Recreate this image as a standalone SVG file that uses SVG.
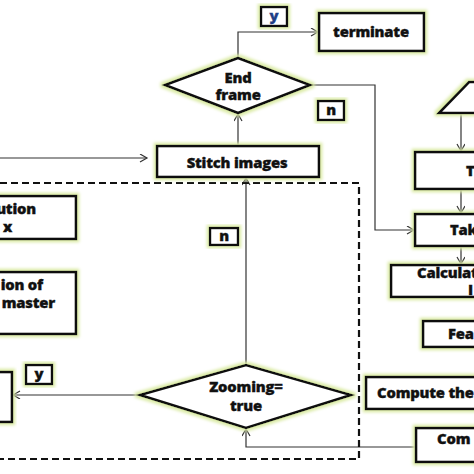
<svg xmlns="http://www.w3.org/2000/svg" width="474" height="474" viewBox="0 0 474 474">
<defs>
<style>
.box{fill:#fff;stroke:#111;stroke-width:2.6;filter:url(#glow)}
.lbl{fill:#fff;stroke:#111;stroke-width:2.4;filter:url(#glow)}
.t{font-family:"Open Sans","Liberation Sans",sans-serif;font-weight:800;font-size:14.8px;fill:#111;stroke:#111;stroke-width:0.35;letter-spacing:-0.2px}
.c{text-anchor:middle}
.e{text-anchor:end}
.con{fill:none;stroke:#333;stroke-width:1.2;marker-end:url(#arr)}
.dash{fill:none;stroke:#111;stroke-width:2.2;stroke-dasharray:7 4}
</style>
<filter id="glow" x="-20%" y="-20%" width="140%" height="140%">
<feMorphology in="SourceAlpha" operator="dilate" radius="2" result="d"/>
<feGaussianBlur in="d" stdDeviation="1.6" result="b"/>
<feFlood flood-color="#dbeba6"/>
<feComposite in2="b" operator="in" result="g"/>
<feMerge><feMergeNode in="g"/><feMergeNode in="SourceGraphic"/></feMerge>
</filter>
<marker id="arr" markerWidth="10" markerHeight="10" refX="8" refY="4" orient="auto" markerUnits="userSpaceOnUse">
<path d="M1,0 L8,4 L1,8" fill="none" stroke="#333" stroke-width="1.2"/>
</marker>
</defs>
<rect width="474" height="474" fill="#fff"/>

<g id="connectors">
<path class="con" d="M238,58 V32 H318"/>
<path class="con" d="M310,85 H375 V230 H414"/>
<path class="con" d="M238,146 V114"/>
<path class="con" d="M246,365 V178"/>
<path class="con" d="M140,395 H13"/>
<path class="con" d="M416,447 H246 V429"/>
<path class="con" d="M461,113 V151"/>
<path class="con" d="M461,189 V213"/>
<path class="con" d="M461,246 V264"/>
<path class="con" d="M0,158 H147"/>
</g>

<g id="dashed-region">
<path class="dash" d="M0,183 H359 V459 H0"/>
</g>

<g id="end-frame">
<polygon class="box" points="165,85 238,58 310,85 238,113"/>
<text class="t c" x="238" y="83">End</text>
<text class="t c" x="238" y="100">frame</text>
</g>

<g id="terminate">
<rect class="box" x="319" y="13" width="105" height="38"/>
<text class="t c" x="371" y="37">terminate</text>
</g>

<g id="label-y-top">
<rect class="lbl" x="261" y="7" width="26" height="19"/>
<text class="t c" x="274" y="21" style="fill:#1f3f86;stroke:#1f3f86">y</text>
</g>

<g id="label-n-top">
<rect class="lbl" x="318" y="101" width="26" height="19"/>
<text class="t c" x="331" y="115">n</text>
</g>

<g id="stitch-images">
<rect class="box" x="157" y="146" width="162" height="31"/>
<text class="t c" x="237" y="168">Stitch images</text>
</g>

<g id="label-n-mid">
<rect class="lbl" x="210" y="228" width="28" height="17"/>
<text class="t c" x="224" y="241">n</text>
</g>

<g id="zooming">
<polygon class="box" points="140,395 246,365 351,395 246,428"/>
<text class="t c" x="246" y="392">Zooming=</text>
<text class="t c" x="246" y="411">true</text>
</g>

<g id="label-y-bottom">
<rect class="lbl" x="26" y="365" width="26" height="19"/>
<text class="t c" x="39" y="379">y</text>
</g>

<g id="left-box-1">
<rect class="box" x="-10" y="196" width="86" height="43"/>
<text class="t e" x="36" y="214">ution</text>
<text class="t e" x="12" y="232">x</text>
</g>

<g id="left-box-2">
<rect class="box" x="-10" y="272" width="86" height="62"/>
<text class="t e" x="43" y="290">ion of</text>
<text class="t e" x="55" y="308">master</text>
</g>

<g id="left-box-3">
<rect class="box" x="-10" y="372" width="22" height="50"/>
</g>

<g id="trapezoid">
<polygon class="box" points="439,113 469,82 490,82 500,113"/>
</g>

<g id="t-box">
<rect class="box" x="415" y="152" width="70" height="37"/>
<text class="t" x="466" y="176">T</text>
</g>

<g id="take-box">
<rect class="box" x="415" y="214" width="70" height="32"/>
<text class="t" x="450" y="235">Tak</text>
</g>

<g id="calculate-box">
<rect class="box" x="391" y="265" width="95" height="32"/>
<text class="t" x="417" y="278">Calculat</text>
<text class="t" x="468" y="295">I</text>
</g>

<g id="fea-box">
<rect class="box" x="423" y="321" width="62" height="26"/>
<text class="t" x="448" y="339">Fea</text>
</g>

<g id="compute-box">
<rect class="box" x="366" y="377" width="120" height="32"/>
<text class="t" x="377" y="398">Compute the</text>
</g>

<g id="com-box">
<rect class="box" x="416" y="428" width="70" height="34"/>
<text class="t" x="437" y="444">Com</text>
</g>
</svg>
